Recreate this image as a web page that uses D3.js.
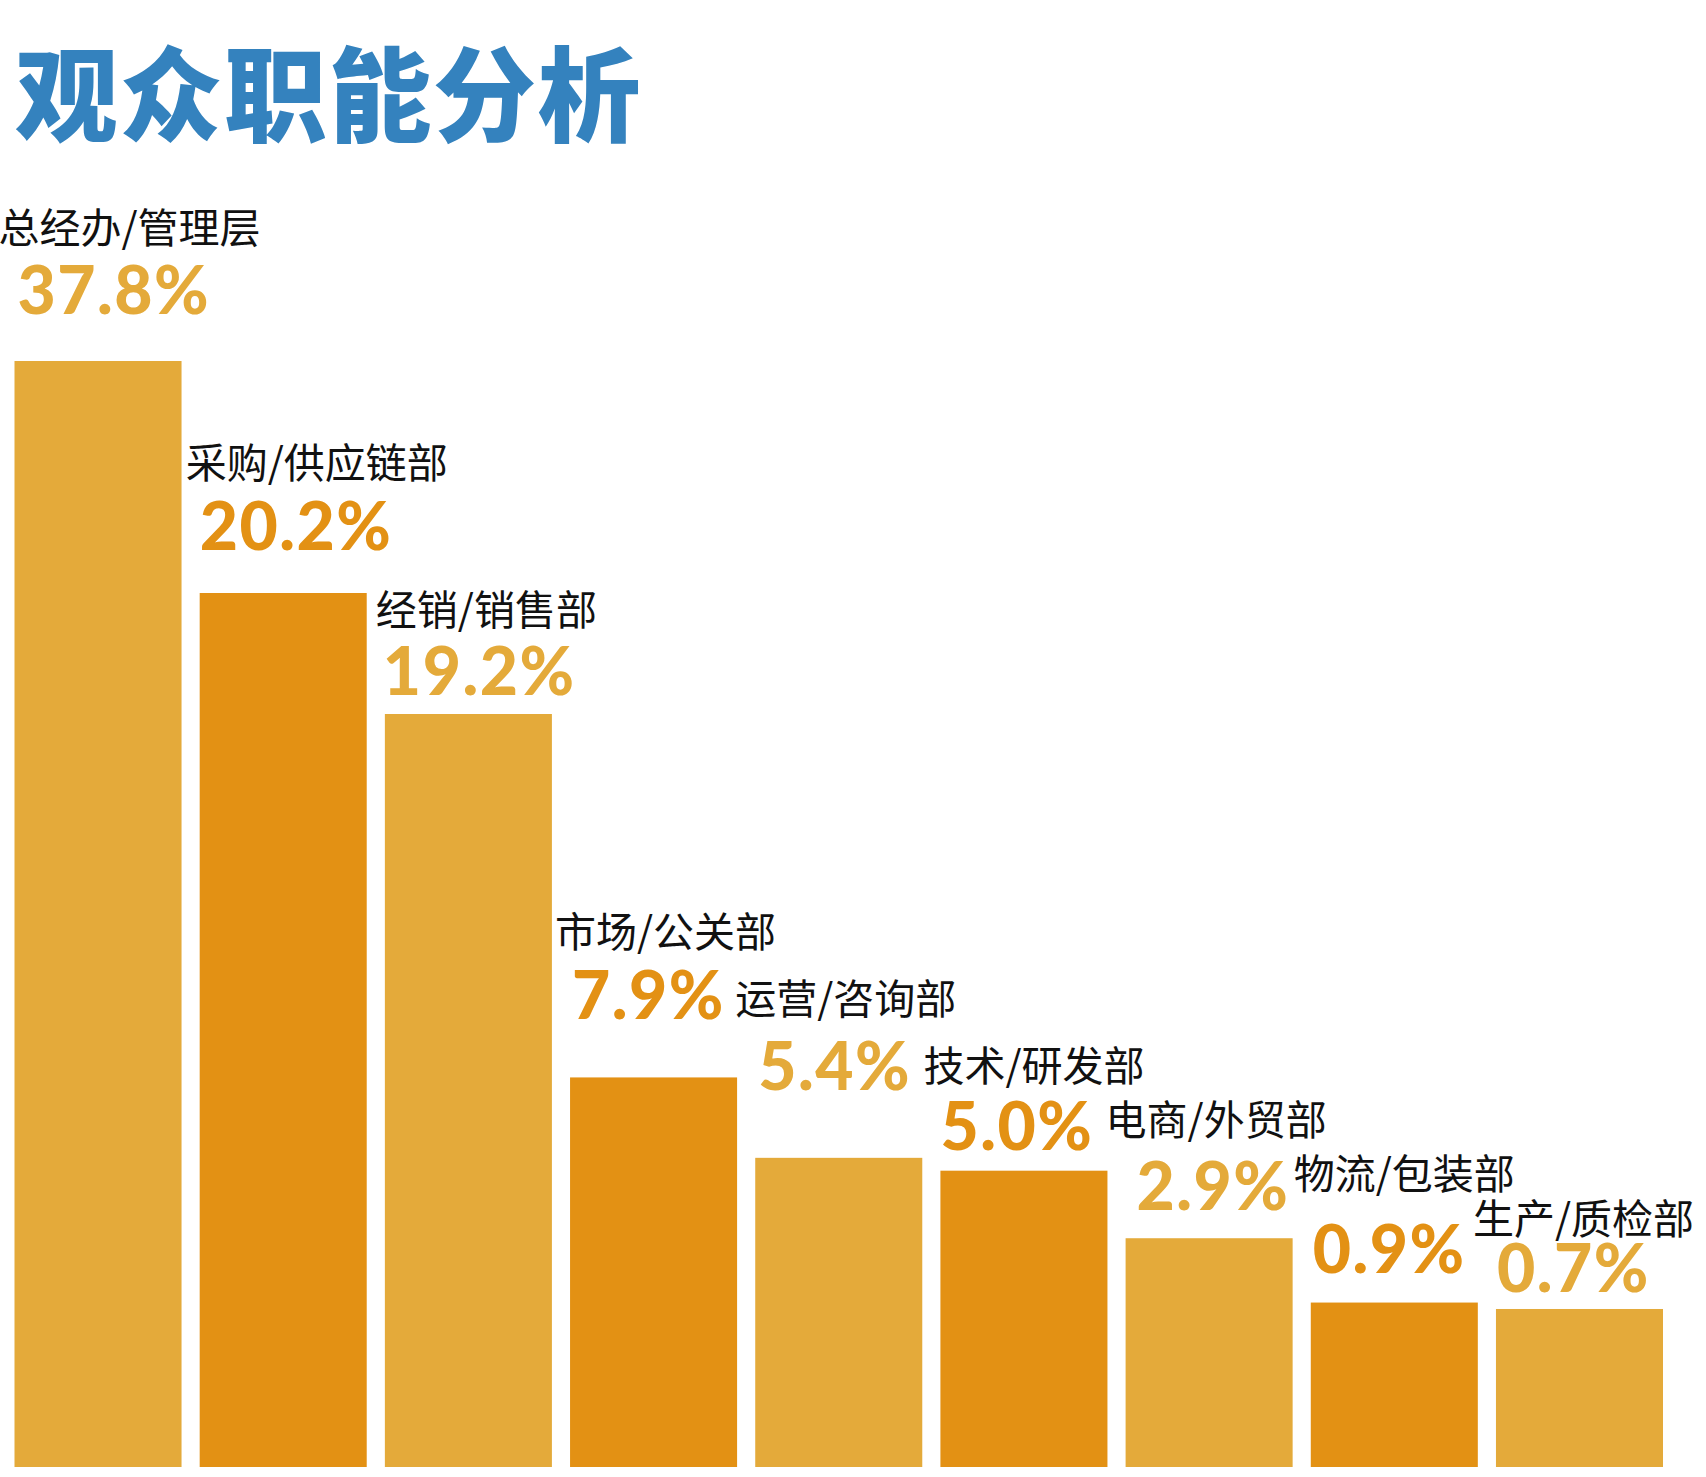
<!DOCTYPE html>
<html>
<head>
<meta charset="utf-8">
<script src="https://cdn.jsdelivr.net/npm/d3@7"></script>
<style>
  body { margin: 0; background: #ffffff; }
  svg { display: block; }
</style>
</head>
<body>
<svg id="chart" width="1706" height="1477"></svg>
<script>
// audience job-function bar chart (观众职能分析)

// data
const categories = [
  "总经办/管理层",
  "采购/供应链部",
  "经销/销售部",
  "市场/公关部",
  "运营/咨询部",
  "技术/研发部",
  "电商/外贸部",
  "物流/包装部",
  "生产/质检部",
];
const values = [37.8, 20.2, 19.2, 7.9, 5.4, 5.0, 2.9, 0.9, 0.7];
const valueLabels = ["37.8%", "20.2%", "19.2%", "7.9%", "5.4%", "5.0%", "2.9%", "0.9%", "0.7%"];

// layout
const width = 1706;
const baseY = 1467; // bottom of the bars
const lightColor = "#e4aa3a";
const darkColor = "#e39114";

// hand placed label nudges (the original is an infographic, labels are set by eye)
const pctLift = [47, 43, 19, 58, 68, 21, 28, 30, 17]; // bar top -> percentage baseline
const pctDx = [3, 0, -2, 2, 3, 0, 11, 2, 1];
const nameLift = [71, 72, 70, 72, 76, 69, 75, 84, 58]; // percentage baseline -> name baseline
const nameDx = [-16, -14, -9, -15, -20, -17, -20, -17, -23];

const svg = d3.select("#chart");

// x: one band per category
const x = d3
  .scaleBand()
  .domain(categories)
  .range([14.5, 1663])
  .paddingInner(0.098)
  .paddingOuter(0);

// bar length: linear with a floor, the two largest bars are drawn on a broken scale
const h = d3
  .scaleLinear()
  .domain([0, 19.2, 20.2, 37.8])
  .range([135.5, 753, 874, 1106]);

const fill = (i) => (i % 2 === 0 ? lightColor : darkColor);

// title
svg
  .append("text")
  .text("观众职能分析")
  .attr("x", 15)
  .attr("y", 134)
  .attr("fill", "#3482be")
  .attr("font-size", 103)
  .attr("font-weight", 900)
  .attr("letter-spacing", 1.5)
  .attr("font-family", "'Noto Sans CJK SC', sans-serif");

const graf = svg.append("g");

// bars
graf
  .selectAll("rect.bar")
  .data(values)
  .join("rect")
  .attr("class", "bar")
  .attr("x", (d, i) => x(categories[i]))
  .attr("y", (d) => baseY - h(d))
  .attr("width", x.bandwidth())
  .attr("height", (d) => h(d))
  .attr("fill", (d, i) => fill(i));

// percentage labels
graf
  .selectAll("text.pct")
  .data(values)
  .join("text")
  .attr("class", "pct")
  .text((d, i) => valueLabels[i])
  .attr("x", (d, i) => x(categories[i]) + pctDx[i])
  .attr("y", (d, i) => baseY - h(d) - pctLift[i])
  .attr("fill", (d, i) => fill(i))
  .attr("font-size", 66)
  .attr("font-weight", 900)
  .attr("letter-spacing", 1.5)
  .attr("font-family", "Lato, 'Open Sans', sans-serif");

// category names
graf
  .selectAll("text.name")
  .data(values)
  .join("text")
  .attr("class", "name")
  .text((d, i) => categories[i])
  .attr("x", (d, i) => x(categories[i]) + nameDx[i])
  .attr("y", (d, i) => baseY - h(d) - pctLift[i] - nameLift[i])
  .attr("fill", "#111111")
  .attr("font-size", 41)
  .attr("font-weight", 400)
  .attr("font-family", "'Noto Sans CJK SC', sans-serif");
</script>
</body>
</html>
